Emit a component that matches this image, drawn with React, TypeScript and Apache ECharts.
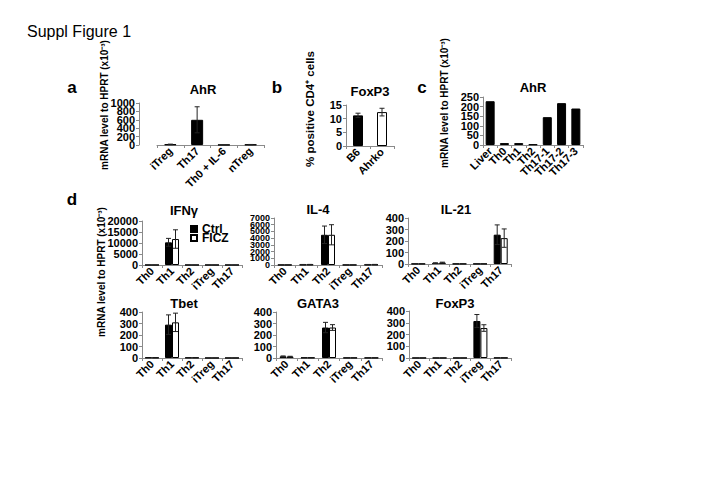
import React, { useEffect, useRef } from "react";
import * as echarts from "echarts";

// ---------- data ----------
const aCategories = ["iTreg", "Th17", "Th0 + IL-6", "nTreg"];
const aValues = [15, 600, 4, 10];
const aErrors = [6, 310, 0, 3];

const bCategories = ["B6", "Ahrko"];
const bValues = [11.2, 12.4];
const bErrors = [0.8, 1.4];

const cCategories = ["Liver", "Th0", "Th1", "Th2", "Th17-1", "Th17-2", "Th17-3"];
const cValues = [228, 10, 10, 3, 145, 218, 190];

const dCategories = ["Th0", "Th1", "Th2", "iTreg", "Th17"];

const ifngCtrl = [40, 10300, 40, 40, 40];
const ifngCtrlErr = [0, 1800, 0, 0, 0];
const ifngFicz = [40, 11800, 40, 40, 40];
const ifngFiczErr = [0, 4200, 0, 0, 0];

const il4Ctrl = [20, 60, 4500, 20, 60];
const il4CtrlErr = [0, 20, 1300, 0, 20];
const il4Ficz = [20, 70, 4500, 20, 70];
const il4FiczErr = [0, 20, 1500, 0, 20];

const il21Ctrl = [2, 8, 2, 2, 255];
const il21CtrlErr = [0, 3, 0, 0, 85];
const il21Ficz = [2, 12, 2, 2, 225];
const il21FiczErr = [0, 4, 0, 0, 80];

const tbetCtrl = [4, 290, 3, 1, 1];
const tbetCtrlErr = [0, 85, 0, 0, 0];
const tbetFicz = [3, 310, 3, 1, 1];
const tbetFiczErr = [0, 80, 0, 0, 0];

const gata3Ctrl = [14, 3, 265, 2, 2];
const gata3CtrlErr = [4, 0, 45, 0, 0];
const gata3Ficz = [12, 3, 265, 2, 2];
const gata3FiczErr = [3, 0, 25, 0, 0];

const foxp3Ctrl = [1, 1, 1, 315, 2];
const foxp3CtrlErr = [0, 0, 0, 55, 0];
const foxp3Ficz = [1, 1, 1, 255, 2];
const foxp3FiczErr = [0, 0, 0, 28, 0];

const aTicks = { max: 1000, interval: 200 };
const bTicks = { max: 15, interval: 5 };
const cTicks = { max: 250, interval: 50 };

// ---------- styling ----------
const FONT = "Liberation Sans, Arial, Helvetica, sans-serif";
const AXIS = "#8a8a8a";

function catAxis(gridIndex: number, cats: string[]) {
  return {
    type: "category",
    gridIndex,
    data: cats,
    axisLine: { show: true, lineStyle: { color: AXIS, width: 1 } },
    axisTick: { show: true, length: 3, lineStyle: { color: AXIS } },
    axisLabel: {
      rotate: 45,
      interval: 0,
      margin: 4,
      fontSize: 11,
      fontWeight: "bold",
      color: "#000",
      fontFamily: FONT,
    },
  };
}

function tickValues(max: number, interval: number) {
  const out: number[] = [];
  for (let k = 0; k * interval <= max + 1e-9; k++) out.push(k * interval);
  return out;
}

// One grid's value axis; crowded axes are split into `parts` overlaid axes,
// each carrying every `parts`-th label so that ECharts does not drop any.
function valAxes(
  gridIndex: number,
  max: number,
  interval: number,
  offset = 0,
  parts = 1,
  fontSize = 11
) {
  const ticks = tickValues(max, interval);
  const axes: any[] = [];
  for (let p = 0; p < parts; p++) {
    const labels = ticks.filter((_, i) => i % parts === p);
    axes.push({
      type: "value",
      gridIndex,
      position: "left",
      min: 0,
      max,
      interval,
      offset,
      splitLine: { show: false },
      axisLine: { show: p === 0, lineStyle: { color: AXIS, width: 1 } },
      axisTick: { show: p === 0, length: 3, lineStyle: { color: AXIS } },
      axisLabel: {
        fontSize,
        fontWeight: "bold",
        color: "#000",
        margin: 4,
        fontFamily: FONT,
        showMinLabel: true,
        showMaxLabel: true,
        customValues: parts > 1 ? labels : undefined,
        formatter: (v: number) => String(v),
      },
    });
  }
  return axes;
}

function errRender(shift: number) {
  return (params: any, api: any) => {
    const idx = api.value(0);
    const mean = api.value(1);
    const err = api.value(2);
    if (!err) return { type: "group", children: [] };
    const top = api.coord([idx, mean + err]);
    const bot = api.coord([idx, Math.max(0, mean - err)]);
    const x = top[0] + shift;
    const cap = 2.5;
    const st = { stroke: "#222", lineWidth: 1 };
    return {
      type: "group",
      children: [
        { type: "line", shape: { x1: x, y1: top[1], x2: x, y2: bot[1] }, style: st },
        { type: "line", shape: { x1: x - cap, y1: top[1], x2: x + cap, y2: top[1] }, style: st },
        { type: "line", shape: { x1: x - cap, y1: bot[1], x2: x + cap, y2: bot[1] }, style: st },
      ],
    };
  };
}

function errSeries(name: string, axisIndex: number, means: number[], errs: number[], shift: number) {
  return {
    type: "custom",
    name,
    xAxisIndex: axisIndex,
    yAxisIndex: axisIndex,
    z: 5,
    renderItem: errRender(shift),
    encode: { x: 0, y: 1 },
    data: means.map((m, i) => [i, m, errs[i]]),
  };
}

function txt(text: string, x: number, y: number, size: number, weight = "bold", rotate = 0, align = "center") {
  return {
    type: "text",
    x,
    y,
    rotation: rotate,
    style: {
      text,
      fontSize: size,
      fontWeight: weight,
      fontFamily: FONT,
      fill: "#000",
      textAlign: align,
      textVerticalAlign: "middle",
      align,
      verticalAlign: "middle",
    },
  };
}

const D_BAR = 7;

export default function App() {
  const ref = useRef<HTMLDivElement>(null);
  useEffect(() => {
    document.body.style.margin = "0";
    const chart = echarts.init(ref.current!, null, { renderer: "svg" });

    const grids = [
      { left: 157, top: 103, width: 107, height: 42 }, // a
      { left: 346, top: 105, width: 48, height: 41 }, // b
      { left: 483, top: 97, width: 100, height: 48 }, // c
      { left: 142, top: 221, width: 100, height: 44 }, // IFNg
      { left: 274, top: 218, width: 108, height: 47 }, // IL-4
      { left: 408, top: 218, width: 103, height: 46 }, // IL-21
      { left: 142, top: 312, width: 100, height: 46 }, // Tbet
      { left: 276, top: 312, width: 106, height: 46 }, // GATA3
      { left: 409, top: 311, width: 102, height: 47 }, // FoxP3
    ].map((g) => ({ ...g, containLabel: false, outerBoundsMode: "none" }));

    const dPanels = [
      { ctrl: ifngCtrl, ctrlErr: ifngCtrlErr, ficz: ifngFicz, ficzErr: ifngFiczErr, max: 20000, interval: 5000, parts: 1, fs: 11 },
      { ctrl: il4Ctrl, ctrlErr: il4CtrlErr, ficz: il4Ficz, ficzErr: il4FiczErr, max: 7000, interval: 1000, parts: 3, fs: 9 },
      { ctrl: il21Ctrl, ctrlErr: il21CtrlErr, ficz: il21Ficz, ficzErr: il21FiczErr, max: 400, interval: 100, parts: 1, fs: 11 },
      { ctrl: tbetCtrl, ctrlErr: tbetCtrlErr, ficz: tbetFicz, ficzErr: tbetFiczErr, max: 400, interval: 100, parts: 1, fs: 11 },
      { ctrl: gata3Ctrl, ctrlErr: gata3CtrlErr, ficz: gata3Ficz, ficzErr: gata3FiczErr, max: 400, interval: 100, parts: 1, fs: 11 },
      { ctrl: foxp3Ctrl, ctrlErr: foxp3CtrlErr, ficz: foxp3Ficz, ficzErr: foxp3FiczErr, max: 400, interval: 100, parts: 1, fs: 11 },
    ];

    const xAxis: any[] = [
      catAxis(0, aCategories),
      catAxis(1, bCategories),
      catAxis(2, cCategories),
      ...dPanels.map((_, i) => catAxis(3 + i, dCategories)),
    ];

    const axisGroups = [
      valAxes(0, aTicks.max, aTicks.interval, 18, 2),
      valAxes(1, bTicks.max, bTicks.interval),
      valAxes(2, cTicks.max, cTicks.interval, 0, 2),
      ...dPanels.map((p, i) => valAxes(3 + i, p.max, p.interval, 0, p.parts, p.fs)),
    ];
    // primary axes first (index == grid index), extra label axes afterwards
    const yAxis: any[] = [...axisGroups.map((g) => g[0]), ...axisGroups.flatMap((g) => g.slice(1))];

    const border = { borderColor: "#000", borderWidth: 1 };
    const series: any[] = [
      {
        type: "bar",
        name: "AhR a",
        xAxisIndex: 0,
        yAxisIndex: 0,
        barWidth: 12,
        itemStyle: { color: "#000", ...border },
        data: aValues,
      },
      errSeries("AhR a err", 0, aValues, aErrors, 0),
      {
        type: "bar",
        name: "FoxP3 b",
        xAxisIndex: 1,
        yAxisIndex: 1,
        barWidth: 10,
        itemStyle: { color: (p: any) => (p.dataIndex === 0 ? "#000" : "#fff"), ...border },
        data: bValues,
      },
      errSeries("FoxP3 b err", 1, bValues, bErrors, 0),
      {
        type: "bar",
        name: "AhR c",
        xAxisIndex: 2,
        yAxisIndex: 2,
        barWidth: 9,
        itemStyle: { color: "#000", ...border },
        data: cValues,
      },
    ];
    dPanels.forEach((p, i) => {
      const ax = 3 + i;
      series.push(
        {
          type: "bar",
          name: "Ctrl",
          xAxisIndex: ax,
          yAxisIndex: ax,
          barWidth: D_BAR,
          barGap: "0%",
          itemStyle: { color: "#000", ...border },
          data: p.ctrl,
        },
        {
          type: "bar",
          name: "FICZ",
          xAxisIndex: ax,
          yAxisIndex: ax,
          barWidth: D_BAR,
          barGap: "0%",
          itemStyle: { color: "#fff", ...border },
          data: p.ficz,
        },
        errSeries("Ctrl err " + i, ax, p.ctrl, p.ctrlErr, -D_BAR / 2),
        errSeries("FICZ err " + i, ax, p.ficz, p.ficzErr, D_BAR / 2)
      );
    });

    const ylab = "mRNA level to HPRT (x10⁻³)";
    const graphic = [
      txt("Suppl Figure 1", 27, 31, 16, "normal", 0, "left"),
      txt("a", 72, 87, 17),
      txt("b", 277, 87, 17),
      txt("c", 422, 87, 17),
      txt("d", 72, 199, 17),
      txt("AhR", 203, 89, 13),
      txt("FoxP3", 370, 91, 13),
      txt("AhR", 533, 87, 13),
      txt("IFNγ", 184, 210, 13),
      txt("IL-4", 318, 209, 13),
      txt("IL-21", 456, 209, 13),
      txt("Tbet", 184, 303, 13),
      txt("GATA3", 318, 303, 13),
      txt("FoxP3", 455, 303, 13),
      txt(ylab, 104, 105, 10, "bold", Math.PI / 2),
      txt("% positive CD4⁺ cells", 310, 109, 11.5, "bold", Math.PI / 2),
      txt(ylab, 444, 103, 10, "bold", Math.PI / 2),
      txt(ylab, 101, 272, 10, "bold", Math.PI / 2),
    ];

    chart.setOption({
      animation: false,
      backgroundColor: "#fff",
      grid: grids,
      xAxis,
      yAxis,
      legend: {
        data: ["Ctrl", "FICZ"],
        orient: "vertical",
        left: 185,
        top: 218,
        itemWidth: 6,
        itemHeight: 6,
        itemGap: -3,
        icon: "rect",
        selectedMode: false,
        textStyle: { fontSize: 12, fontWeight: "bold", fontFamily: FONT, color: "#000", lineHeight: 10 },
      },
      series,
      graphic: { elements: graphic },
    });
    return () => chart.dispose();
  }, []);
  return (
    <div
      ref={ref}
      style={{ position: "fixed", left: 0, top: 0, width: 720, height: 502, background: "#fff" }}
    />
  );
}
